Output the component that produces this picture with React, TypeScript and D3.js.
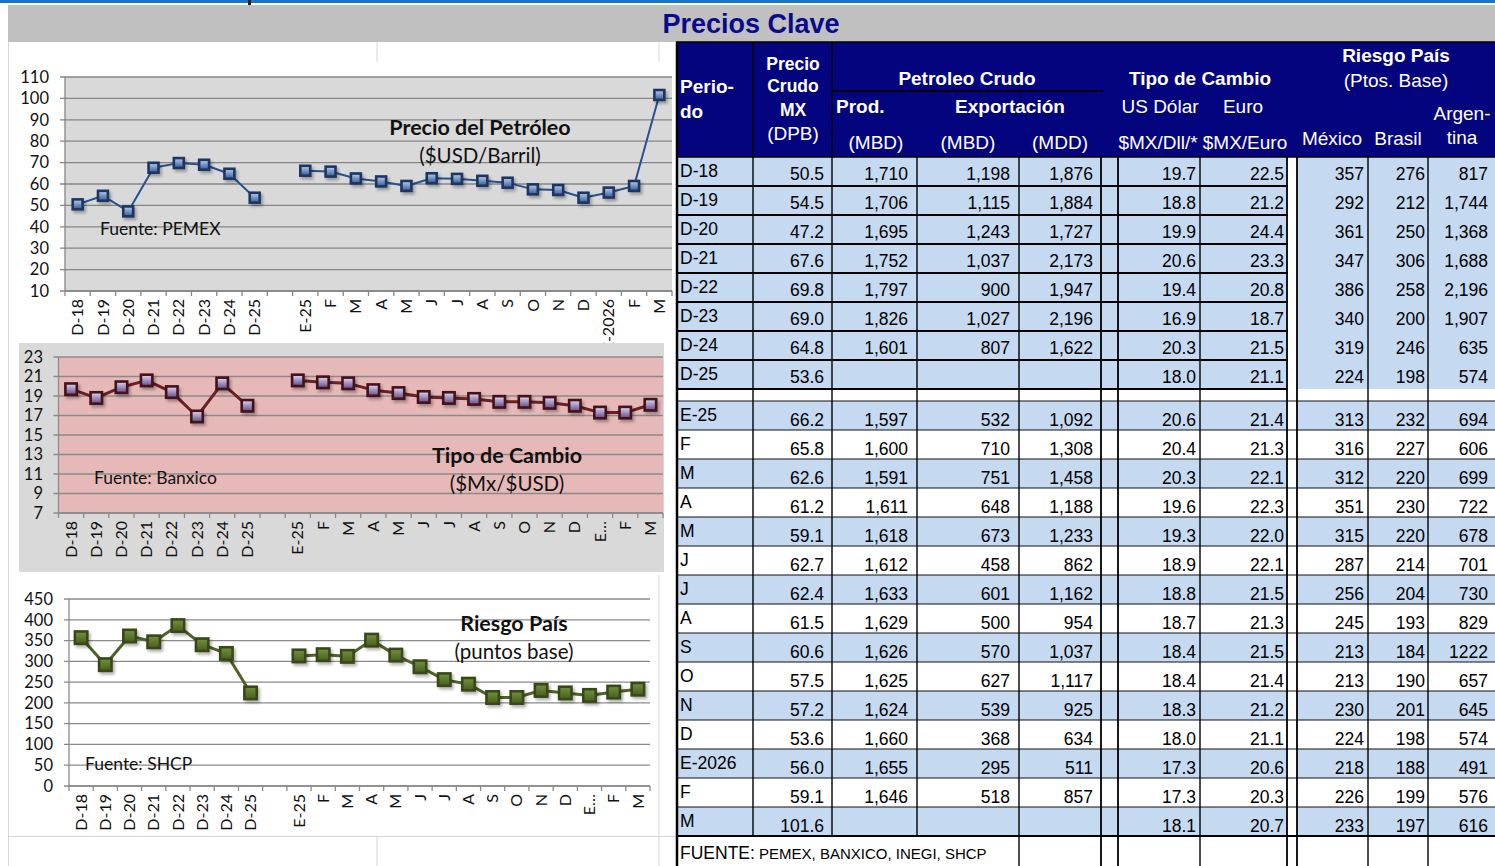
import React from "react";
import * as d3 from "d3";

// ---------------- DATA ----------------
const periods = ["D-18","D-19","D-20","D-21","D-22","D-23","D-24","D-25","E-25","F","M","A","M","J","J","A","S","O","N","D","E-2026","F","M"];
const annualCount = 8;
const precioCrudo = [50.5,54.5,47.2,67.6,69.8,69.0,64.8,53.6,66.2,65.8,62.6,61.2,59.1,62.7,62.4,61.5,60.6,57.5,57.2,53.6,56.0,59.1,101.6];
const produccion = [1710,1706,1695,1752,1797,1826,1601,null,1597,1600,1591,1611,1618,1612,1633,1629,1626,1625,1624,1660,1655,1646,null];
const exportMbd = [1198,1115,1243,1037,900,1027,807,null,532,710,751,648,673,458,601,500,570,627,539,368,295,518,null];
const exportMdd = [1876,1884,1727,2173,1947,2196,1622,null,1092,1308,1458,1188,1233,862,1162,954,1037,1117,925,634,511,857,null];
const usDolar = [19.7,18.8,19.9,20.6,19.4,16.9,20.3,18.0,20.6,20.4,20.3,19.6,19.3,18.9,18.8,18.7,18.4,18.4,18.3,18.0,17.3,17.3,18.1];
const euro = [22.5,21.2,24.4,23.3,20.8,18.7,21.5,21.1,21.4,21.3,22.1,22.3,22.0,22.1,21.5,21.3,21.5,21.4,21.2,21.1,20.6,20.3,20.7];
const riesgoMexico = [357,292,361,347,386,340,319,224,313,316,312,351,315,287,256,245,213,213,230,224,218,226,233];
const riesgoBrasil = [276,212,250,306,258,200,246,198,232,227,220,230,220,214,204,193,184,190,201,198,188,199,197];
const riesgoArgentina = ["817","1,744","1,368","1,688","2,196","1,907","635","574","694","606","699","722","678","701","730","829","1222","657","645","574","491","576","616"];

const oilTicks = [10,20,30,40,50,60,70,80,90,100,110];
const fxTicks = [7,9,11,13,15,17,19,21,23];
const riskTicks = [0,50,100,150,200,250,300,350,400,450];

// chart categories: annual, gap, monthly
const withGap = <T,>(arr: T[], gap: T): T[] => [...arr.slice(0, annualCount), gap, ...arr.slice(annualCount)];
const catsLong = withGap(periods, "");
const catsShort = catsLong.map((c) => (c === "E-2026" ? "E…" : c));

const CHART_FONT = "Lato, 'Open Sans', sans-serif";
const TABLE_FONT = "'Liberation Sans', Arial, sans-serif";

type ChartCfg = {
  id: string;
  values: (number | null)[];
  cats: string[];
  domain: [number, number];
  ticks: number[];
  x0: number; x1: number; y0: number; y1: number;
  plotFill: string;
  gridColor: string;
  lineColor: string;
  lineWidth: number;
  marker: number;
  frame: string;
  inner: [string, string];
  yLabelX: number;
  title: string; subtitle: string; tx: number; ty: number;
  source: string; sx: number; sy: number;
};

function LineChart({ c }: { c: ChartCfg }) {
  const idx = c.cats.map((_, i) => String(i));
  const x = d3.scaleBand().domain(idx).range([c.x0, c.x1]);
  const y = d3.scaleLinear().domain(c.domain).range([c.y1, c.y0]);
  const cx = (i: number) => (x(String(i)) as number) + x.bandwidth() / 2;
  const line = d3
    .line<number | null>()
    .defined((d) => d != null)
    .x((_, i) => cx(i))
    .y((d) => y(d as number));
  const m = c.marker;
  const ins = 2.6;
  return (
    <g>
      <defs>
        <linearGradient id={`g-${c.id}`} x1="0" y1="0" x2="0" y2="1">
          <stop offset="0%" stopColor={c.inner[0]} />
          <stop offset="100%" stopColor={c.inner[1]} />
        </linearGradient>
        <filter id={`s-${c.id}`} x="-50%" y="-50%" width="200%" height="200%">
          <feGaussianBlur stdDeviation="1.6" />
        </filter>
      </defs>
      <rect x={c.x0} y={c.y0} width={c.x1 - c.x0} height={c.y1 - c.y0} fill={c.plotFill} />
      {c.ticks.map((t) => (
        <g key={t}>
          <line x1={c.x0 - 5} x2={c.x1} y1={y(t)} y2={y(t)} stroke={c.gridColor} strokeWidth={1.3} />
          <text x={c.yLabelX} y={y(t)} dy="0.35em" textAnchor="end" fontFamily={CHART_FONT} fontSize={16.5} fill="#111">
            {t}
          </text>
        </g>
      ))}
      <line x1={c.x0} x2={c.x0} y1={c.y0} y2={c.y1} stroke={c.gridColor} strokeWidth={1.3} />
      <line x1={c.x0} x2={c.x1} y1={c.y1} y2={c.y1} stroke={c.gridColor} strokeWidth={1.3} />
      {idx.map((k, i) => (
        <line key={"t" + i} x1={x(k) as number} x2={x(k) as number} y1={c.y1} y2={c.y1 + 5} stroke={c.gridColor} strokeWidth={1.3} />
      ))}
      <line x1={c.x1} x2={c.x1} y1={c.y1} y2={c.y1 + 5} stroke={c.gridColor} strokeWidth={1.3} />
      {c.cats.map((lab, i) => (
        <text
          key={"l" + i}
          transform={`translate(${cx(i)},${c.y1 + 8}) rotate(-90)`}
          textAnchor="end"
          dy="0.35em"
          fontFamily={CHART_FONT}
          fontSize={16}
          fill="#111"
        >
          {lab}
        </text>
      ))}
      <path d={line(c.values) || ""} fill="none" stroke={c.lineColor} strokeWidth={c.lineWidth} strokeLinejoin="round" />
      {c.values.map((v, i) =>
        v == null ? null : (
          <g key={"m" + i}>
            <rect x={cx(i) - m / 2 + 2} y={y(v) - m / 2 + 2.5} width={m} height={m} fill="#000" opacity={0.3} filter={`url(#s-${c.id})`} />
            <rect x={cx(i) - m / 2} y={y(v) - m / 2} width={m} height={m} fill={c.frame} />
            <rect x={cx(i) - m / 2 + ins} y={y(v) - m / 2 + ins} width={m - 2 * ins} height={m - 2 * ins} fill={`url(#g-${c.id})`} />
          </g>
        )
      )}
      <text x={c.tx} y={c.ty} textAnchor="middle" fontFamily={CHART_FONT} fontWeight={700} fontSize={21.5} fill="#111">
        {c.title}
      </text>
      <text x={c.tx} y={c.ty + 28} textAnchor="middle" fontFamily={CHART_FONT} fontSize={20.5} fill="#111">
        {c.subtitle}
      </text>
      <text x={c.sx} y={c.sy} fontFamily={CHART_FONT} fontSize={17.5} fill="#111">
        {c.source}
      </text>
    </g>
  );
}

// ---------------- TABLE LAYOUT ----------------
const colEdges = [676, 753, 832, 917, 1019, 1101, 1118, 1200, 1287, 1297, 1368, 1428, 1495];
const HEADER_TOP = 42;
const HEADER_BOTTOM = 157;
const ROW_H = 29;
const LOWER_TOP = 401;
const BLUE = "#c5d9f1";
const NAVY = "#04047f";

const fmtInt = d3.format(",");
const fmt1 = d3.format(".1f");

function Table() {
  const rows = periods.map((p, i) => {
    const top = i < annualCount ? HEADER_BOTTOM + i * ROW_H : LOWER_TOP + (i - annualCount) * ROW_H;
    return { p, i, top, bottom: top + ROW_H, upper: i < annualCount };
  });
  const last = rows[rows.length - 1];
  const fuenteTop = last.bottom;
  const cells = (i: number) => [
    { v: fmt1(precioCrudo[i]), r: 824 },
    { v: produccion[i] == null ? "" : fmtInt(produccion[i] as number), r: 908 },
    { v: exportMbd[i] == null ? "" : fmtInt(exportMbd[i] as number), r: 1010 },
    { v: exportMdd[i] == null ? "" : fmtInt(exportMdd[i] as number), r: 1093 },
    { v: fmt1(usDolar[i]), r: 1196 },
    { v: fmt1(euro[i]), r: 1284 },
    { v: String(riesgoMexico[i]), r: 1364 },
    { v: String(riesgoBrasil[i]), r: 1425 },
    { v: riesgoArgentina[i], r: 1488 },
  ];
  const hdr = { fill: "#fff", fontFamily: TABLE_FONT };
  return (
    <g>
      <rect x={676} y={HEADER_TOP} width={1495 - 676} height={HEADER_BOTTOM - HEADER_TOP} fill={NAVY} />
      {rows.map((r) => {
        const blue = r.upper || (r.i - annualCount) % 2 === 0;
        return (
          <g key={"bg" + r.i}>
            {blue && <rect x={676} y={r.top} width={1287 - 676} height={ROW_H} fill={BLUE} />}
            {blue && <rect x={1297} y={r.top} width={1495 - 1297} height={ROW_H} fill={BLUE} />}
          </g>
        );
      })}
      {rows.map((r) =>
        r.upper ? (
          <line key={"h" + r.i} x1={676} x2={1288} y1={r.bottom} y2={r.bottom} stroke="#000" strokeWidth={1.8} />
        ) : (
          <line key={"h" + r.i} x1={676} x2={1495} y1={r.top} y2={r.top} stroke="#111" strokeWidth={1} />
        )
      )}
      <line x1={676} x2={1495} y1={HEADER_BOTTOM} y2={HEADER_BOTTOM} stroke="#000" strokeWidth={1.5} />
      <line x1={676} x2={1495} y1={fuenteTop} y2={fuenteTop} stroke="#000" strokeWidth={2.2} />
      <line x1={676} x2={1495} y1={HEADER_TOP} y2={HEADER_TOP} stroke="#000" strokeWidth={1.5} />
      <line x1={677} x2={677} y1={HEADER_TOP} y2={866} stroke="#000" strokeWidth={2.5} />
      {colEdges.slice(1, -1).map((xv) => (
        <line
          key={"v" + xv}
          x1={xv}
          x2={xv}
          y1={xv <= 832 ? HEADER_TOP : HEADER_BOTTOM}
          y2={xv <= 917 ? fuenteTop : 866}
          stroke="#000"
          strokeWidth={xv === 1287 || xv === 1297 || xv === 1101 || xv === 1118 ? 1.8 : 1.4}
        />
      ))}
      <line x1={832} x2={1103} y1={91} y2={91} stroke="#000" strokeWidth={2} />
      <g {...hdr} fontWeight={700} fontSize={19}>
        <text x={680} y={93}>Perio-</text>
        <text x={680} y={118}>do</text>
        <text x={793} y={70} textAnchor="middle" fontSize={17.5}>Precio</text>
        <text x={793} y={92} textAnchor="middle" fontSize={17.5}>Crudo</text>
        <text x={793} y={116} textAnchor="middle" fontSize={17.5}>MX</text>
        <text x={967} y={85} textAnchor="middle">Petroleo Crudo</text>
        <text x={836} y={113}>Prod.</text>
        <text x={1010} y={113} textAnchor="middle">Exportación</text>
        <text x={1200} y={85} textAnchor="middle">Tipo de Cambio</text>
        <text x={1396} y={62} textAnchor="middle">Riesgo País</text>
      </g>
      <g {...hdr} fontSize={19}>
        <text x={793} y={140} textAnchor="middle">(DPB)</text>
        <text x={876} y={149} textAnchor="middle">(MBD)</text>
        <text x={968} y={149} textAnchor="middle">(MBD)</text>
        <text x={1060} y={149} textAnchor="middle">(MDD)</text>
        <text x={1160} y={113} textAnchor="middle">US Dólar</text>
        <text x={1243} y={113} textAnchor="middle">Euro</text>
        <text x={1158} y={149} textAnchor="middle">$MX/Dll/*</text>
        <text x={1245} y={149} textAnchor="middle">$MX/Euro</text>
        <text x={1396} y={87} textAnchor="middle">(Ptos. Base)</text>
        <text x={1332} y={145} textAnchor="middle">México</text>
        <text x={1398} y={145} textAnchor="middle">Brasil</text>
        <text x={1462} y={120} textAnchor="middle">Argen-</text>
        <text x={1462} y={144} textAnchor="middle">tina</text>
      </g>
      <g fontFamily={TABLE_FONT} fontSize={17.5} fill="#000">
        {rows.map((r) => (
          <g key={"t" + r.i}>
            <text x={680} y={r.top + 20}>{r.p}</text>
            {cells(r.i).map((c, k) => (
              <text key={k} x={c.r} y={r.bottom - (r.upper ? 6 : 4)} textAnchor="end">
                {c.v}
              </text>
            ))}
          </g>
        ))}
        <text x={680} y={fuenteTop + 23}>
          FUENTE:<tspan fontSize={15}> PEMEX, BANXICO, INEGI, SHCP</tspan>
        </text>
      </g>
    </g>
  );
}

export default function App() {
  const oil: ChartCfg = {
    id: "oil",
    values: withGap<number | null>(precioCrudo, null),
    cats: catsLong,
    domain: [10, 110],
    ticks: oilTicks,
    x0: 65, x1: 672, y0: 77, y1: 291,
    plotFill: "#d9d9d9",
    gridColor: "#858585",
    lineColor: "#28508e",
    lineWidth: 2,
    marker: 12.5,
    frame: "#1d3563",
    inner: ["#a9c0e4", "#46699f"],
    yLabelX: 49,
    title: "Precio del Petróleo", subtitle: "($USD/Barril)", tx: 480, ty: 135,
    source: "Fuente: PEMEX", sx: 100, sy: 235,
  };
  const fx: ChartCfg = {
    id: "fx",
    values: withGap<number | null>(usDolar, null),
    cats: catsShort,
    domain: [7, 23],
    ticks: fxTicks,
    x0: 58.5, x1: 663, y0: 357, y1: 513,
    plotFill: "#e6b9b8",
    gridColor: "#8a8a8a",
    lineColor: "#6a2024",
    lineWidth: 3,
    marker: 14,
    frame: "#43121a",
    inner: ["#d3c8e8", "#6d5993"],
    yLabelX: 43,
    title: "Tipo de Cambio", subtitle: "($Mx/$USD)", tx: 507, ty: 463,
    source: "Fuente: Banxico", sx: 94, sy: 484,
  };
  const risk: ChartCfg = {
    id: "risk",
    values: withGap<number | null>(riesgoMexico, null),
    cats: catsShort,
    domain: [0, 450],
    ticks: riskTicks,
    x0: 69, x1: 650, y0: 599, y1: 786,
    plotFill: "#ffffff",
    gridColor: "#8a8a8a",
    lineColor: "#4f6228",
    lineWidth: 3,
    marker: 15,
    frame: "#384818",
    inner: ["#6f8c3a", "#4b6422"],
    yLabelX: 53,
    title: "Riesgo País", subtitle: "(puntos base)", tx: 514, ty: 631,
    source: "Fuente: SHCP", sx: 85, sy: 770,
  };
  return (
    <svg
      width={1495}
      height={866}
      style={{ position: "absolute", left: 0, top: 0, background: "#fff" }}
    >
      <rect x={0} y={0} width={1495} height={3} fill="#1a74c4" />
      <rect x={248} y={0} width={3} height={5} fill="#222" />
      <rect x={8} y={5} width={1487} height={37} fill="#c0c0c0" />
      <text x={751} y={33} textAnchor="middle" fontFamily={TABLE_FONT} fontWeight={700} fontSize={27} fill="#0a0a8c">
        Precios Clave
      </text>
      <g stroke="#d6d6d6" strokeWidth={1}>
        <line x1={8.5} x2={8.5} y1={42} y2={866} />
        <line x1={377} x2={377} y1={42} y2={62} />
        <line x1={659} x2={659} y1={42} y2={62} />
        <line x1={8} x2={676} y1={836.5} y2={836.5} />
        <line x1={377} x2={377} y1={836} y2={866} />
        <line x1={659} x2={659} y1={575} y2={866} />
      </g>
      <LineChart c={oil} />
      <rect x={19} y={343} width={645} height={229} fill="#d9d9d9" />
      <LineChart c={fx} />
      <LineChart c={risk} />
      <Table />
    </svg>
  );
}
